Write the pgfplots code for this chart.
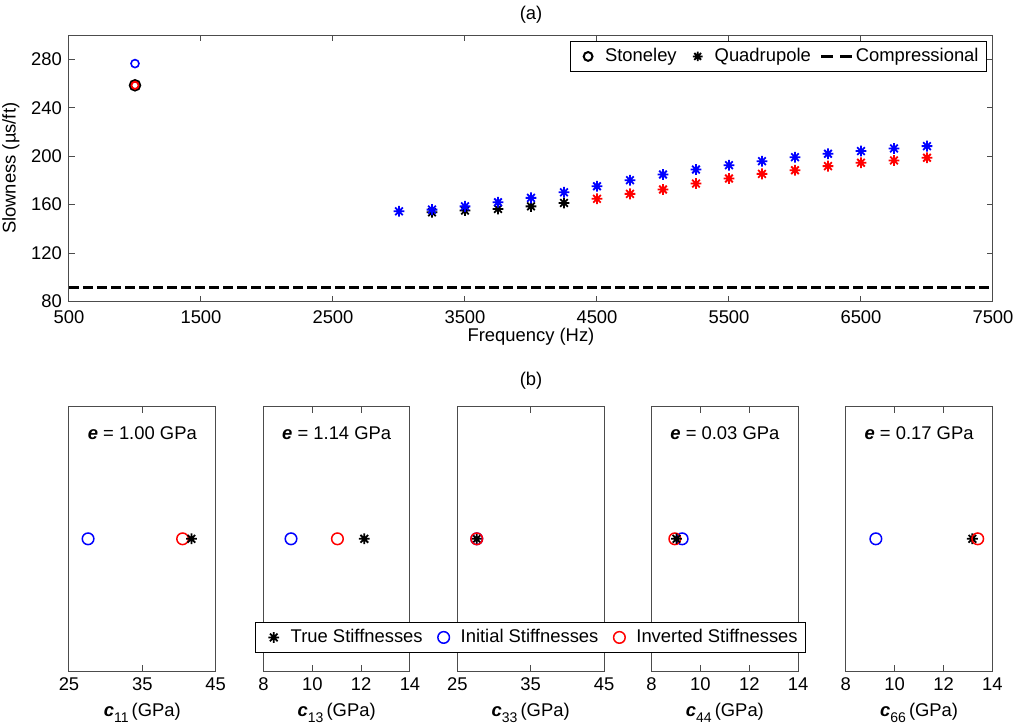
\documentclass[border=0pt]{standalone}
\usepackage{fontspec}
\setmainfont{Liberation Sans}
\usepackage{pgfplots}
\pgfplotsset{compat=1.18}

\newcommand\fs{\fontsize{9.2}{11}\selectfont}
\newcommand\ce[1]{\textbf{\textit{c}}\raisebox{-0.7ex}{\fontsize{7}{8}\selectfont #1}\,(GPa)}
\newcommand\ee[1]{{\bfseries\itshape e} = #1 GPa}

% MATLAB-like eight-armed asterisk
\pgfdeclareplotmark{ast8}{%
  \pgfpathmoveto{\pgfqpoint{-\pgfplotmarksize}{0pt}}%
  \pgfpathlineto{\pgfqpoint{\pgfplotmarksize}{0pt}}%
  \pgfpathmoveto{\pgfqpoint{0pt}{-\pgfplotmarksize}}%
  \pgfpathlineto{\pgfqpoint{0pt}{\pgfplotmarksize}}%
  \pgfpathmoveto{\pgfqpoint{-0.707\pgfplotmarksize}{-0.707\pgfplotmarksize}}%
  \pgfpathlineto{\pgfqpoint{0.707\pgfplotmarksize}{0.707\pgfplotmarksize}}%
  \pgfpathmoveto{\pgfqpoint{-0.707\pgfplotmarksize}{0.707\pgfplotmarksize}}%
  \pgfpathlineto{\pgfqpoint{0.707\pgfplotmarksize}{-0.707\pgfplotmarksize}}%
  \pgfusepathqstroke}

\pgfplotsset{
  mat/.style={scale only axis, axis line style={black!70, line width=0.5pt},
    tick style={black!70, line width=0.5pt}, tick align=inside, major tick length=3pt,
    ticklabel style={font=\fs}, label style={font=\fs},
    /pgf/number format/assume math mode=true, /pgf/number format/1000 sep={},
    clip=false},
  panel/.style={mat, width=73.3pt, height=132.2pt, anchor=north west,
    ymin=-1, ymax=1, ytick=\empty, xlabel style={yshift=1pt}},
  ast/.style={only marks, mark=ast8, mark size=2.7pt, line width=0.9pt},
  circ/.style={only marks, mark=o, mark size=2.9pt, line width=0.75pt},
  mlegend/.style={legend style={draw=black, line width=0.4pt, fill=white, font=\fs,
    inner xsep=3pt, inner ysep=1.5pt, nodes={inner xsep=1pt, inner ysep=2pt},
    /tikz/every even column/.append style={column sep=3.5pt}},
    legend image code/.code={\path[draw=none, fill=none] (0pt,0pt) -- (13.5pt,0pt);
      \draw[##1] plot coordinates {(6pt,0pt)};}},
  dashleg/.style={legend image code/.code={\draw[##1] (0pt,0pt) -- (15.5pt,0pt);}},
}

\begin{document}
\begin{tikzpicture}[font=\fs]
\useasboundingbox (0,0) rectangle (509pt,-362.5pt);
\node at (265.5pt,-7.5pt) {(a)};
\node at (265.5pt,-190.5pt) {(b)};

\begin{axis}[mat, mlegend, at={(34.5pt,-17.5pt)}, anchor=north west,
  width=462pt, height=133.3pt,
  xmin=500, xmax=7500, ymin=80, ymax=300,
  xtick={500,1500,...,7500}, ytick={80,120,...,280},
  xlabel={Frequency (Hz)}, ylabel={Slowness (µs/ft)},
  xticklabel style={yshift=-0.8pt},
  xlabel style={yshift=4.5pt}, ylabel style={yshift=-1pt},
  legend columns=3,
  legend style={at={(0.9935,0.978)}, anchor=north east}]
\addlegendimage{black, only marks, mark=o, mark size=2.2pt, line width=1pt}
\addlegendentry{Stoneley}
\addlegendimage{black, only marks, mark=ast8, mark size=2.4pt, line width=0.9pt}
\addlegendentry{Quadrupole}
\addlegendimage{black, line width=1.5pt, dash pattern=on 6pt off 3.5pt, dashleg}
\addlegendentry{Compressional}

\addplot[black, line width=1.6pt, dash pattern=on 5pt off 2pt, forget plot]
  coordinates {(500,91.6) (7500,91.6)};
% Stoneley
\addplot[black, only marks, mark=o, mark size=2.4pt, line width=1.4pt, forget plot]
  coordinates {(1000,258.5)};
\addplot[blue, only marks, mark=o, mark size=2pt, line width=0.8pt, forget plot]
  coordinates {(1000,276.4)};
\addplot[red, only marks, mark=o, mark size=1.8pt, line width=0.9pt, forget plot]
  coordinates {(1000,258.5)};
% Quadrupole
\addplot[black, ast, forget plot] coordinates {
  (3250,153.7) (3500,155.1) (3750,156.5) (4000,158.6) (4250,161.4)};
\addplot[blue, ast, forget plot] coordinates {
  (3000,154.5) (3250,155.9) (3500,158.6) (3750,162.0) (4000,165.6) (4250,170.2)
  (4500,175.2) (4750,180.2) (5000,184.9) (5250,189.0) (5500,192.6) (5750,195.9)
  (6000,199.2) (6250,202.0) (6500,204.2) (6750,206.4) (7000,208.3)};
\addplot[red, ast, forget plot] coordinates {
  (4500,164.8) (4750,168.9) (5000,172.5) (5250,177.4) (5500,181.6) (5750,185.4)
  (6000,188.4) (6250,191.8) (6500,194.6) (6750,196.5) (7000,198.7)};
\end{axis}

% c11
\begin{axis}[panel, at={(34.5pt,-203.3pt)}, xmin=25, xmax=45, xtick={25,35,45},
  xlabel={\ce{11}}]
\addplot[blue, circ] coordinates {(27.6,0)};
\addplot[red, circ] coordinates {(40.5,0)};
\addplot[black, ast] coordinates {(41.7,0)};
\node at (rel axis cs:0.5,0.9) {\ee{1.00}};
\end{axis}
% c13
\begin{axis}[panel, at={(131.7pt,-203.3pt)}, xmin=8, xmax=14, xtick={8,10,12,14},
  xlabel={\ce{13}}]
\addplot[blue, circ] coordinates {(9.13,0)};
\addplot[red, circ] coordinates {(11.03,0)};
\addplot[black, ast] coordinates {(12.13,0)};
\node at (rel axis cs:0.5,0.9) {\ee{1.14}};
\end{axis}
% c44
\begin{axis}[panel, at={(325.8pt,-203.3pt)}, xmin=8, xmax=14, xtick={8,10,12,14},
  xlabel={\ce{44}}]
\addplot[blue, circ] coordinates {(9.25,0)};
\addplot[red, circ] coordinates {(8.95,0)};
\addplot[black, ast] coordinates {(9.02,0)};
\node at (rel axis cs:0.5,0.9) {\ee{0.03}};
\end{axis}
% c66
\begin{axis}[panel, at={(422.9pt,-203.3pt)}, xmin=8, xmax=14, xtick={8,10,12,14},
  xlabel={\ce{66}}]
\addplot[blue, circ] coordinates {(9.23,0)};
\addplot[black, ast] coordinates {(13.18,0)};
\addplot[red, circ] coordinates {(13.4,0)};
\node at (rel axis cs:0.5,0.9) {\ee{0.17}};
\end{axis}
% c33 last, carries the shared legend
\begin{axis}[panel, mlegend, at={(228.7pt,-203.3pt)}, xmin=25, xmax=45, xtick={25,35,45},
  xlabel={\ce{33}}, legend columns=3,
  legend style={at={(0.5,0.127)}, anchor=center}]
\addplot[black, ast] coordinates {(27.64,0)};
\addplot[blue, circ] coordinates {(27.64,0)};
\addplot[red, circ] coordinates {(27.64,0)};
\legend{True Stiffnesses, Initial Stiffnesses, Inverted Stiffnesses}
\end{axis}
\end{tikzpicture}
\end{document}
